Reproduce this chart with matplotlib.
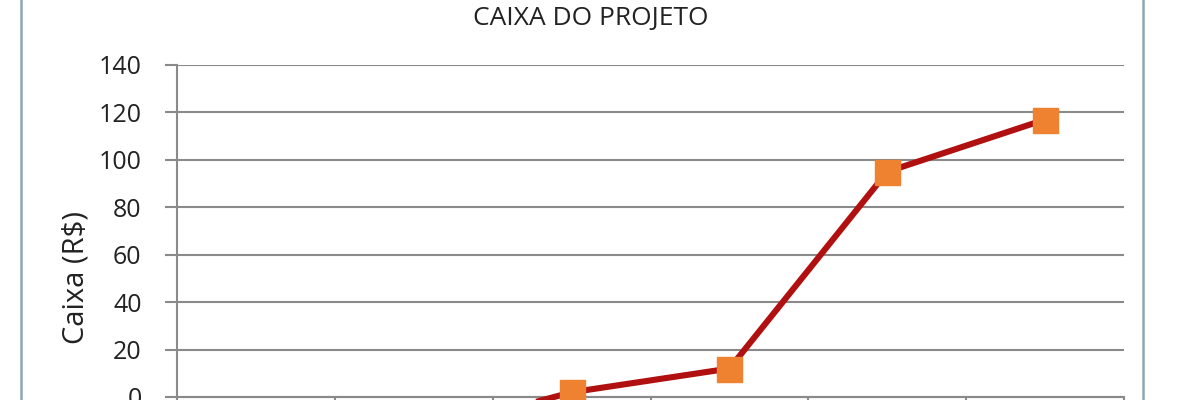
import numpy as np
import matplotlib
matplotlib.use('Agg')
import matplotlib.pyplot as plt

plt.rcParams['font.family'] = ['Open Sans', 'DejaVu Sans']

# dados do caixa acumulado (os dois primeiros ficam abaixo do corte da imagem)
periodos = ['0', '1', '2', '3', '4', '5']
caixa = [-30, -16, 2, 12, 95, 117]
yticks = list(range(-60, 141, 20))

fig = plt.figure(figsize=(12, 4), dpi=100)
# eixo maior que a figura: a parte negativa fica cortada embaixo
ax = fig.add_axes([0.1475, 0.0075 - 60 * 0.0059286, 0.7892, 200 * 0.0059286])

xpos = np.arange(len(caixa)) + 0.5
ax.plot(xpos, caixa, color='#B01010', lw=4.4, zorder=3,
        marker='s', markersize=18, markerfacecolor='#EE8230',
        markeredgecolor='#EE8230')

ax.set_xlim(0, len(caixa))
ax.set_ylim(-60, 140)
ax.set_yticks(yticks)
ax.set_yticklabels([str(v) for v in yticks], fontsize=18, color='#222222')
ax.set_xticks(np.arange(len(caixa) + 1))
ax.set_xticklabels([''] * (len(caixa) + 1))

ax.grid(axis='y', color='#8a8a8a', lw=1.5)
ax.set_axisbelow(True)
for s in ['top', 'right']:
    ax.spines[s].set_visible(False)
ax.spines['left'].set_color('#8a8a8a')
ax.spines['left'].set_linewidth(1.5)
ax.spines['bottom'].set_position(('data', 0))
ax.spines['bottom'].set_color('#8a8a8a')
ax.spines['bottom'].set_linewidth(1.5)
ax.tick_params(axis='y', length=8.5, width=1.5, color='#8a8a8a', pad=17)
ax.tick_params(axis='x', length=8.5, width=1.5, color='#8a8a8a', direction='out')

fig.text(591 / 1200, 1 - 18 / 400, 'CAIXA DO PROJETO', ha='center', va='center',
         fontsize=19, color='#222222')
fig.text(76 / 1200, 1 - 277 / 400, 'Caixa (R$)', ha='center', va='center',
         rotation=90, fontsize=21, color='#222222')

# moldura do gráfico
for xb in [21 / 1200, 1143 / 1200]:
    fig.add_artist(plt.Line2D([xb, xb], [0, 1], color='#8ea4b8', lw=1.8))

fig.savefig('out.png', dpi=100)
